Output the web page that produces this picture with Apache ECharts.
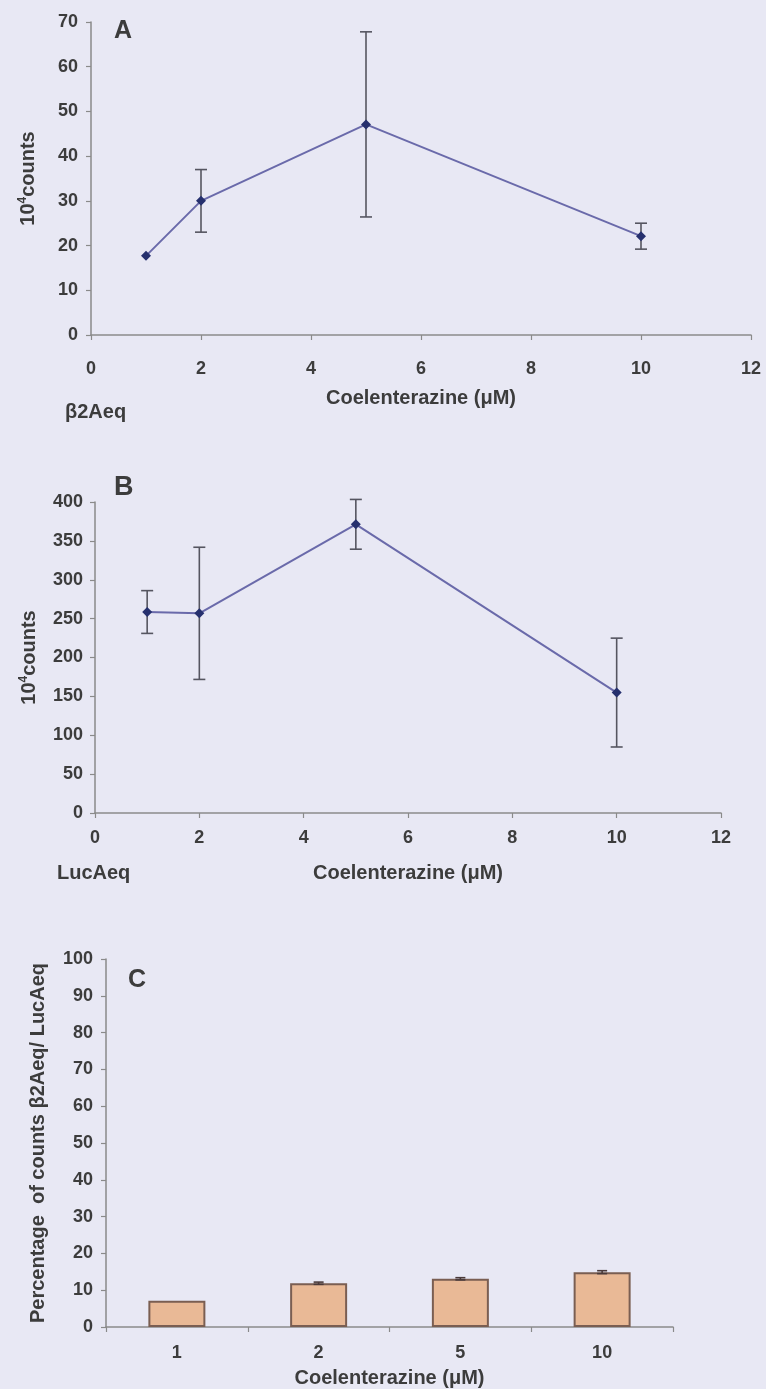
<!DOCTYPE html>
<html>
<head>
<meta charset="utf-8">
<script src="https://cdn.jsdelivr.net/npm/echarts@6/dist/echarts.min.js"></script>
<style>
  html, body { margin: 0; padding: 0; background: #e8e8f4; }
  #chart { width: 766px; height: 1389px; }
</style>
</head>
<body>
<div id="chart"></div>
<script>
// Coelenterazine concentrations (uM)
var concX = [1, 2, 5, 10];

// panel A: b2Aeq counts (10^4) and SD
var aMean = [17.7, 30.0, 47.1, 22.1];
var aSd = [0, 7.0, 20.7, 2.9];

// panel B: LucAeq counts (10^4) and SD
var bMean = [258.5, 256.8, 371.3, 154.9];
var bSd = [27.5, 85.0, 32.0, 70.0];

// panel C: percentage b2Aeq / LucAeq
var cCats = ['1', '2', '5', '10'];
var cMean = [7.1, 11.9, 13.1, 14.9];
var cSd = [0, 0.3, 0.3, 0.4];

var FONT = '"Liberation Sans", Arial, sans-serif';
var TXT = '#3c3c3c';
var AXIS = '#8a8a8a';

function pairs(xs, ys) {
    var out = [];
    for (var i = 0; i < xs.length; i++) out.push([xs[i], ys[i]]);
    return out;
}

function errData(xs, means, sds) {
    var out = [];
    for (var i = 0; i < xs.length; i++) {
        out.push([xs[i], means[i] - sds[i], means[i] + sds[i]]);
    }
    return out;
}

// error bar drawn as vertical line with caps
function errRender(cap, color) {
    return function (params, api) {
        var x = api.value(0);
        var lo = api.coord([x, api.value(1)]);
        var hi = api.coord([x, api.value(2)]);
        if (Math.abs(lo[1] - hi[1]) < 1) return;
        var st = { stroke: color, lineWidth: 1.6 };
        return {
            type: 'group',
            children: [
                { type: 'line', shape: { x1: hi[0], y1: hi[1], x2: lo[0], y2: lo[1] }, style: st },
                { type: 'line', shape: { x1: hi[0] - cap, y1: hi[1], x2: hi[0] + cap, y2: hi[1] }, style: st },
                { type: 'line', shape: { x1: lo[0] - cap, y1: lo[1], x2: lo[0] + cap, y2: lo[1] }, style: st }
            ]
        };
    };
}

function axisBase() {
    return {
        axisLine: { show: true, lineStyle: { color: AXIS, width: 1.5 } },
        axisTick: { show: true, length: 5, lineStyle: { color: AXIS, width: 1.2 } },
        splitLine: { show: false },
        axisLabel: { color: TXT, fontFamily: FONT, fontWeight: 'bold', fontSize: 18 },
        nameTextStyle: { color: TXT, fontFamily: FONT, fontWeight: 'bold', fontSize: 20 }
    };
}

function merge(a, b) {
    for (var k in b) {
        if (typeof b[k] === 'object' && !Array.isArray(b[k]) && a[k] && typeof a[k] === 'object') {
            a[k] = merge(a[k], b[k]);
        } else {
            a[k] = b[k];
        }
    }
    return a;
}

function countsName() {
    return {
        name: '10{sup|4}counts',
        nameLocation: 'middle',
        nameRotate: 90,
        nameTextStyle: {
            rich: {
                sup: { fontSize: 12, fontWeight: 'bold', fontFamily: FONT, color: TXT, verticalAlign: 'top', lineHeight: 22 }
            },
            lineHeight: 22
        }
    };
}

var labelStyle = { color: TXT, fontFamily: FONT, fontWeight: 'bold' };

var option = {
    backgroundColor: '#e8e8f4',
    animation: false,
    title: [
        { text: 'A', left: 114, top: 19, padding: 0, textStyle: merge({ fontSize: 25 }, labelStyle) },
        { text: 'B', left: 114, top: 474, padding: 0, textStyle: merge({ fontSize: 27 }, labelStyle) },
        { text: 'C', left: 128, top: 968, padding: 0, textStyle: merge({ fontSize: 25 }, labelStyle) },
        { text: 'β2Aeq', left: 65, top: 402, padding: 0, textStyle: merge({ fontSize: 20 }, labelStyle) },
        { text: 'LucAeq', left: 57, top: 863, padding: 0, textStyle: merge({ fontSize: 20 }, labelStyle) }
    ],
    grid: [
        { left: 91, right: 15, top: 22, height: 313 },
        { left: 95, right: 45, top: 502, height: 311 },
        { left: 106, right: 93, top: 959, height: 370 }
    ],
    xAxis: [
        merge(axisBase(), {
            gridIndex: 0, type: 'value', min: 0, max: 12, interval: 2,
            name: 'Coelenterazine (μM)', nameLocation: 'middle', nameGap: 53,
            axisLabel: { margin: 25 }
        }),
        merge(axisBase(), {
            gridIndex: 1, type: 'value', min: 0, max: 12, interval: 2,
            name: 'Coelenterazine (μM)', nameLocation: 'middle', nameGap: 50,
            axisLabel: { margin: 16 }
        }),
        merge(axisBase(), {
            gridIndex: 2, type: 'category', data: cCats, boundaryGap: true,
            name: 'Coelenterazine (μM)', nameLocation: 'middle', nameGap: 41,
            axisTick: { alignWithLabel: false },
            axisLabel: { margin: 17 }
        })
    ],
    yAxis: [
        merge(merge(axisBase(), countsName()), {
            gridIndex: 0, type: 'value', min: 0, max: 70, interval: 10,
            nameGap: 52, axisLabel: { margin: 13 }
        }),
        merge(merge(axisBase(), countsName()), {
            gridIndex: 1, type: 'value', min: 0, max: 400, interval: 50,
            nameGap: 55, axisLabel: { margin: 12 }
        }),
        merge(axisBase(), {
            gridIndex: 2, type: 'value', min: 0, max: 100, interval: 10,
            name: 'Percentage  of counts β2Aeq/ LucAeq', nameLocation: 'middle', nameRotate: 90, nameGap: 58,
            axisLabel: { margin: 13 }
        })
    ],
    series: [
        {
            type: 'line', xAxisIndex: 0, yAxisIndex: 0,
            data: pairs(concX, aMean),
            symbol: 'diamond', symbolSize: 10,
            itemStyle: { color: '#26306e' },
            lineStyle: { color: '#6a6aaa', width: 2 },
            z: 3
        },
        {
            type: 'custom', xAxisIndex: 0, yAxisIndex: 0,
            data: errData(concX, aMean, aSd),
            renderItem: errRender(6, '#555560'), z: 2
        },
        {
            type: 'line', xAxisIndex: 1, yAxisIndex: 1,
            data: pairs(concX, bMean),
            symbol: 'diamond', symbolSize: 10,
            itemStyle: { color: '#26306e' },
            lineStyle: { color: '#6a6aaa', width: 2 },
            z: 3
        },
        {
            type: 'custom', xAxisIndex: 1, yAxisIndex: 1,
            data: errData(concX, bMean, bSd),
            renderItem: errRender(6, '#555560'), z: 2
        },
        {
            type: 'bar', xAxisIndex: 2, yAxisIndex: 2,
            data: cMean, barWidth: 57,
            itemStyle: { color: '#e9b996', borderColor: '#7a5e52', borderWidth: 2 }
        },
        {
            type: 'custom', xAxisIndex: 2, yAxisIndex: 2,
            data: errData([0, 1, 2, 3], cMean, cSd),
            renderItem: errRender(5, '#4a3a3a'), z: 5
        }
    ]
};

var chart = echarts.init(document.getElementById('chart'));
chart.setOption(option);
</script>
</body>
</html>
